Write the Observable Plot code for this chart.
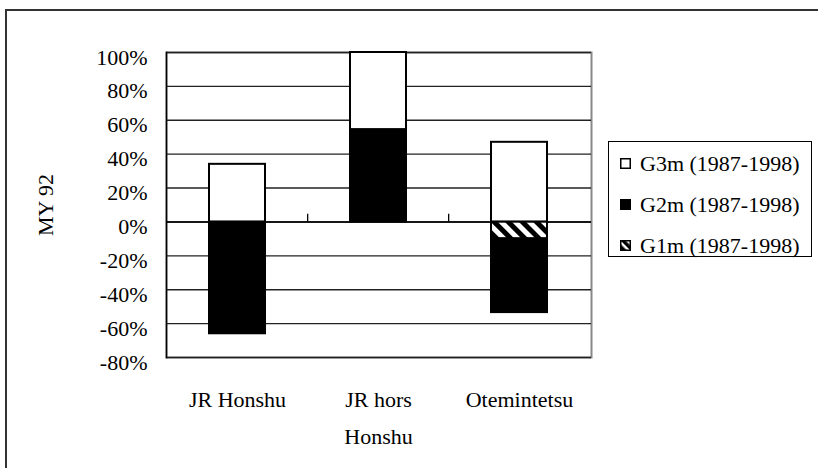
<!DOCTYPE html>
<html>
<head>
<meta charset="utf-8">
<script src="https://cdn.jsdelivr.net/npm/d3@7"></script>
<script src="https://cdn.jsdelivr.net/npm/@observablehq/plot@0.6"></script>
<style>
  html, body { margin: 0; padding: 0; background: #fff; }
  #wrap { position: relative; width: 818px; height: 468px; overflow: hidden; font-family: "Liberation Serif", "DejaVu Serif", serif; }
  #wrap svg text { font-family: "Liberation Serif", "DejaVu Serif", serif; }
  #border { position: absolute; left: 5px; top: 9px; width: 820px; height: 470px; border-left: 2px solid #333; border-top: 2px solid #333; pointer-events: none; }
  #legend { position: absolute; left: 608px; top: 141px; width: 204px; height: 116px; box-sizing: border-box; border: 1.5px solid #000; padding-top: 1px; background: #fff; }
  .row { height: 41px; display: flex; align-items: center; font-size: 22px; color: #000; white-space: nowrap; }
  .sw { width: 11px; height: 11px; margin-left: 11px; margin-right: 9px; flex: none; display: block; }
</style>
</head>
<body>
<div id="wrap"></div>
<script>
// ---- data ----
const categories = ["JR Honshu", "JR hors Honshu", "Otemintetsu"];
const categoryLabels = ["JR Honshu", "JR hors\nHonshu", "Otemintetsu"];
const seriesNames = ["G3m (1987-1998)", "G2m (1987-1998)", "G1m (1987-1998)"];
const g3m = [34, 45.5, 47];
const g2m = [-66, 54.5, -43.5];
const g1m = [0, 0, -10];
const yTicks = [-80, -60, -40, -20, 0, 20, 40, 60, 80, 100];
const yLabel = "MY 92";
const seriesFills = ["#fff", "#000", "url(#hatch)"];

// ---- table for the stack (G1m, G2m, G3m order per category) ----
const rows = [];
categories.forEach((c, i) => {
  [[seriesNames[2], g1m[i]], [seriesNames[1], g2m[i]], [seriesNames[0], g3m[i]]].forEach(([s, v]) => {
    if (v !== 0) rows.push({category: c, series: s, value: v});
  });
});

const W = 818, H = 468;
const mL = 166, mR = 227, mT = 52, mB = 111;
const pInner = 0.6, pOuter = 0.3;
const step = (W - mL - mR) / (categories.length - pInner + 2 * pOuter);
const FONT = "Liberation Serif";

const chart = Plot.plot({
  width: W, height: H,
  marginLeft: mL, marginRight: mR, marginTop: mT, marginBottom: mB,
  style: {fontFamily: FONT, fontSize: "22px", background: "transparent", color: "#000"},
  x: {domain: categories, paddingInner: pInner, paddingOuter: pOuter, axis: null},
  y: {domain: [-80, 100], axis: null},
  color: {domain: seriesNames, range: seriesFills},
  marks: [
    Plot.frame({stroke: "#888", strokeWidth: 2}),
    Plot.ruleY(yTicks, {stroke: "#222", strokeWidth: 1.4}),
    Plot.ruleY([0], {stroke: "#000", strokeWidth: 1.5}),
    Plot.ruleX(categories.slice(1), {x: d => d, y1: 0, y2: 4.5, dx: -step / 2, stroke: "#000", strokeWidth: 1.3}),
    Plot.barY(rows, Plot.stackY({x: "category", y: "value", fill: "series", stroke: "#000", strokeWidth: 2, order: null})),
    Plot.frame({anchor: "left", stroke: "#000", strokeWidth: 1.5}),
    Plot.text(yTicks, {y: d => d, text: d => `${d}%`, frameAnchor: "left", textAnchor: "end", dx: -19, dy: 5, fontSize: 22, fontFamily: FONT, fill: "#000"}),
    Plot.text(categories, {x: d => d, text: (d, i) => categoryLabels[i], frameAnchor: "bottom", textAnchor: "middle", lineAnchor: "top", dy: 23, lineHeight: 1.7, fontSize: 22, fontFamily: FONT, fill: "#000"}),
    Plot.text([yLabel], {text: d => d, frameAnchor: "left", textAnchor: "middle", rotate: -90, dx: -121, fontSize: 22, fontFamily: FONT, fill: "#000"})
  ]
});

const svgEl = chart.tagName.toLowerCase() === "svg" ? chart : chart.querySelector("svg");
const NS = "http://www.w3.org/2000/svg";
function makeHatch(id, size, bw) {
  const defs = document.createElementNS(NS, "defs");
  const pat = document.createElementNS(NS, "pattern");
  pat.setAttribute("id", id);
  pat.setAttribute("patternUnits", "userSpaceOnUse");
  pat.setAttribute("width", String(size));
  pat.setAttribute("height", String(size));
  pat.setAttribute("patternTransform", "rotate(-45)");
  const r1 = document.createElementNS(NS, "rect");
  r1.setAttribute("width", String(size)); r1.setAttribute("height", String(size)); r1.setAttribute("fill", "#fff");
  const r2 = document.createElementNS(NS, "rect");
  r2.setAttribute("width", String(bw)); r2.setAttribute("height", String(size)); r2.setAttribute("fill", "#000");
  pat.appendChild(r1); pat.appendChild(r2);
  defs.appendChild(pat);
  return defs;
}
svgEl.insertBefore(makeHatch("hatch", 10, 5), svgEl.firstChild);

const wrap = document.getElementById("wrap");
chart.style.position = "absolute";
chart.style.left = "0px";
chart.style.top = "0px";
wrap.appendChild(chart);

// ---- legend ----
const legend = document.createElement("div");
legend.id = "legend";
seriesNames.forEach((name, i) => {
  const row = document.createElement("div");
  row.className = "row";
  const sw = document.createElementNS(NS, "svg");
  sw.setAttribute("class", "sw");
  sw.setAttribute("width", "11"); sw.setAttribute("height", "11");
  if (i === 2) sw.appendChild(makeHatch("hatchLeg", 6, 3.5));
  const r = document.createElementNS(NS, "rect");
  r.setAttribute("x", "0.75"); r.setAttribute("y", "0.75");
  r.setAttribute("width", "9.5"); r.setAttribute("height", "9.5");
  r.setAttribute("fill", i === 2 ? "url(#hatchLeg)" : seriesFills[i]);
  r.setAttribute("stroke", "#000"); r.setAttribute("stroke-width", "1.5");
  sw.appendChild(r);
  const t = document.createElement("span");
  t.textContent = name;
  row.appendChild(sw); row.appendChild(t);
  legend.appendChild(row);
});
wrap.appendChild(legend);

const border = document.createElement("div");
border.id = "border";
wrap.appendChild(border);
</script>
</body>
</html>
